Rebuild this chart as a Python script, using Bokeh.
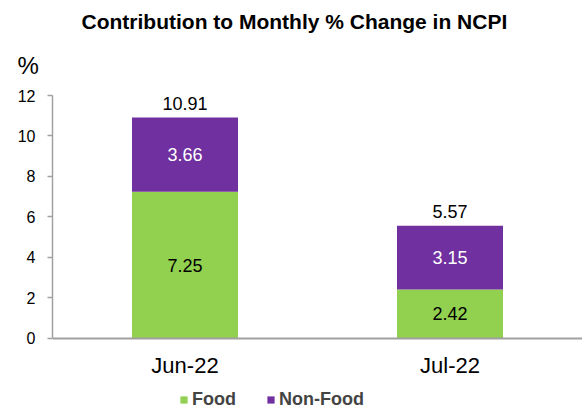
from bokeh.plotting import figure
from bokeh.models import ColumnDataSource, Range1d, FixedTicker, Title, Legend, LegendItem
from bokeh.core.properties import value
from bokeh.embed import file_html
from bokeh.resources import INLINE

categories = ["Jun-22", "Jul-22"]
food = [7.25, 2.42]
non_food = [3.66, 3.15]
totals = [10.91, 5.57]
y_ticks = [0, 2, 4, 6, 8, 10, 12]

GREEN = "#92D050"
PURPLE = "#7030A0"
FONT = "Liberation Sans"

xs = list(range(len(categories)))
source = ColumnDataSource(dict(
    x=xs,
    food=food,
    non_food=non_food,
    food_mid=[f / 2 for f in food],
    nf_mid=[f + n / 2 for f, n in zip(food, non_food)],
    total_y=[t + 0.7 for t in totals],
    food_lbl=["%.2f" % v for v in food],
    nf_lbl=["%.2f" % v for v in non_food],
    tot_lbl=["%.2f" % v for v in totals],
))

# frame spans the full lower part of the canvas; the x axis is pinned at y=0
p = figure(width=582, height=410, output_backend="svg", toolbar_location=None,
           x_range=Range1d(-0.5, 1.5), y_range=Range1d(-3.556, 12),
           min_border_left=52, min_border_right=0, min_border_top=95, min_border_bottom=0,
           title=None)
p.outline_line_color = None
p.xgrid.visible = False
p.ygrid.visible = False
p.background_fill_color = "white"
p.border_fill_color = "white"

renderers = p.vbar_stack(["food", "non_food"], x="x", width=0.4, color=[GREEN, PURPLE],
                         line_color=None, source=source)

p.text(x="x", y="food_mid", text="food_lbl", source=source, text_align="center",
       text_baseline="middle", text_font=value(FONT), text_font_size="18px", text_color="black")
p.text(x="x", y="nf_mid", text="nf_lbl", source=source, text_align="center",
       text_baseline="middle", text_font=value(FONT), text_font_size="18px", text_color="white")
p.text(x="x", y="total_y", text="tot_lbl", source=source, text_align="center",
       text_baseline="middle", text_font=value(FONT), text_font_size="18px", text_color="black")

# axes
p.yaxis.ticker = FixedTicker(ticks=y_ticks)
p.yaxis.bounds = (0, 12)
p.yaxis.major_tick_out = 5
p.yaxis.major_tick_in = 0
p.yaxis.minor_tick_line_color = None
p.yaxis.axis_line_color = "#A0A0A0"
p.yaxis.axis_line_width = 1.5
p.yaxis.major_tick_line_color = "#A0A0A0"
p.yaxis.major_tick_line_width = 1.5
p.yaxis.major_label_text_font = FONT
p.yaxis.major_label_text_font_size = "16px"
p.yaxis.major_label_text_color = "black"
p.yaxis.major_label_standoff = 12

p.xaxis.fixed_location = 0
p.xaxis.ticker = FixedTicker(ticks=xs)
p.xaxis.major_label_overrides = {i: c for i, c in zip(xs, categories)}
p.xaxis.major_tick_line_color = None
p.xaxis.minor_tick_line_color = None
p.xaxis.major_tick_out = 0
p.xaxis.axis_line_color = "#A0A0A0"
p.xaxis.axis_line_width = 2
p.xaxis.major_label_text_font = FONT
p.xaxis.major_label_text_font_size = "22px"
p.xaxis.major_label_text_color = "black"
p.xaxis.major_label_standoff = 15

# titles
p.add_layout(Title(text="%", align="left", text_font=FONT, text_font_size="24px",
                   text_font_style="normal", text_color="black", offset=-35, standoff=33), "above")
p.add_layout(Title(text="Contribution to Monthly % Change in NCPI", align="left",
                   text_font=FONT, text_font_size="21px", text_font_style="bold",
                   text_color="black", offset=29, standoff=2), "above")

legend = Legend(items=[LegendItem(label="Food", renderers=[renderers[0]]),
                       LegendItem(label="Non-Food", renderers=[renderers[1]])],
                orientation="horizontal", location=(127, 0),
                label_text_font=FONT, label_text_font_size="18px", label_text_font_style="bold",
                glyph_width=9, glyph_height=9, label_standoff=4, spacing=30,
                padding=0, margin=0, border_line_color=None, background_fill_alpha=0)
p.add_layout(legend, "center")

open("out.html", "w").write(file_html(p, INLINE))
